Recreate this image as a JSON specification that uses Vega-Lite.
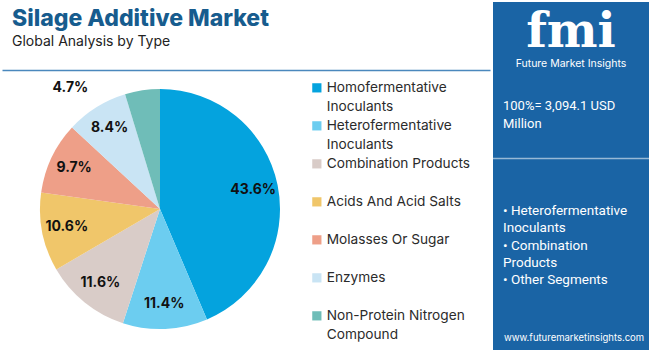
{
  "$schema": "https://vega.github.io/schema/vega-lite/v6.json",
  "padding": {"left": 2, "top": 2, "right": 2, "bottom": 0},
  "background": "white",
  "config": {"view": {"stroke": null}, "font": "Inter"},
  "spacing": 0,
  "hconcat": [
    {
      "spacing": 2,
      "vconcat": [
        {
          "title": {
            "text": "Silage Additive Market",
            "subtitle": "Global Analysis by Type",
            "anchor": "start",
            "frame": "group",
            "orient": "top",
            "dx": 10,
            "offset": -47,
            "font": "Inter",
            "fontSize": 23,
            "fontWeight": 800,
            "color": "#175c8e",
            "subtitleFont": "Inter",
            "subtitleFontSize": 14,
            "subtitleColor": "#222222",
            "subtitlePadding": 4
          },
          "width": 488,
          "height": 68,
          "data": {"values": []},
          "mark": "point",
          "encoding": {
            "x": {
              "datum": 0,
              "type": "quantitative",
              "scale": {"domain": [0, 1]},
              "axis": {"title": null, "labels": false, "ticks": false, "grid": false, "domain": true, "domainColor": "#4a88bd", "domainWidth": 1.5}
            }
          }
        },
        {
          "width": 316,
          "height": 274,
          "data": {
            "values": [
              {"type": "Homofermentative Inoculants", "share": 0.436, "rank": 1},
              {"type": "Heterofermentative Inoculants", "share": 0.114, "rank": 2},
              {"type": "Combination Products", "share": 0.116, "rank": 3},
              {"type": "Acids And Acid Salts", "share": 0.106, "rank": 4},
              {"type": "Molasses Or Sugar", "share": 0.097, "rank": 5},
              {"type": "Enzymes", "share": 0.084, "rank": 6},
              {"type": "Non-Protein Nitrogen Compound", "share": 0.047, "rank": 7}
            ]
          },
          "encoding": {
            "theta": {"field": "share", "type": "quantitative", "stack": true},
            "order": {"field": "rank", "type": "quantitative"},
            "color": {
              "field": "type",
              "type": "nominal",
              "sort": ["Homofermentative Inoculants", "Heterofermentative Inoculants", "Combination Products", "Acids And Acid Salts", "Molasses Or Sugar", "Enzymes", "Non-Protein Nitrogen Compound"],
              "scale": {
                "domain": ["Homofermentative Inoculants", "Heterofermentative Inoculants", "Combination Products", "Acids And Acid Salts", "Molasses Or Sugar", "Enzymes", "Non-Protein Nitrogen Compound"],
                "range": ["#04a3de", "#6ccdf0", "#d9ccc8", "#f0c66a", "#ee9f88", "#c9e4f4", "#6fbdb8"]
              },
              "legend": {
                "title": null,
                "orient": "right",
                "offset": -17,
                "padding": 9,
                "symbolType": "square",
                "symbolSize": 85,
                "symbolStrokeWidth": 0,
                "symbolOpacity": 1,
                "labelFont": "Inter",
                "labelFontSize": 13.7,
                "labelColor": "#2b2b2b",
                "labelLimit": 220,
                "labelOffset": 3,
                "labelBaseline": "top",
                "rowPadding": 4,
                "labelExpr": "datum.label == 'Homofermentative Inoculants' ? ['Homofermentative', 'Inoculants'] : datum.label == 'Heterofermentative Inoculants' ? ['Heterofermentative', 'Inoculants'] : datum.label == 'Non-Protein Nitrogen Compound' ? ['Non-Protein Nitrogen', 'Compound'] : [datum.label, '']",
                "encode": {"labels": {"update": {"lineHeight": {"value": 19}, "dy": {"value": -7}}}}
              }
            }
          },
          "layer": [
            {"mark": {"type": "arc", "radius": 120}},
            {
              "mark": {"type": "text", "radius": 95, "fontSize": 14, "fontWeight": "bold", "font": "Inter"},
              "encoding": {
                "fill": {"value": "#111111"},
                "text": {
                  "condition": {"test": "datum.type === 'Non-Protein Nitrogen Compound'", "value": ""},
                  "field": "share", "type": "quantitative", "format": ".1%"
                }
              }
            },
            {
              "mark": {"type": "text", "radius": 100, "align": "right", "dx": -57, "dy": -22, "fontSize": 14, "fontWeight": "bold", "font": "Inter"},
              "encoding": {
                "fill": {"value": "#111111"},
                "text": {
                  "condition": {"test": "datum.type !== 'Non-Protein Nitrogen Compound'", "value": ""},
                  "field": "share", "type": "quantitative", "format": ".1%"
                }
              }
            }
          ]
        },
        {
          "width": 490,
          "height": 3,
          "data": {"values": [{"band": "a", "w": 1}, {"band": "b", "w": 1}, {"band": "c", "w": 1}]},
          "mark": "rect",
          "encoding": {
            "x": {"field": "w", "type": "quantitative", "stack": true, "axis": null, "scale": {"domain": [0, 3], "nice": false}},
            "color": {"field": "band", "type": "nominal", "legend": null, "scale": {"domain": ["a", "b", "c"], "range": ["#8dbf52", "#e6643c", "#8e3f9f"]}}
          }
        }
      ],
      "resolve": {"scale": {"color": "independent"}}
    },
    {
      "width": 156,
      "height": 348,
      "view": {"fill": "#1a64a5", "stroke": null},
      "data": {
        "values": [
          {"kind": "logo", "line": 3, "text": "fmi"},
          {"kind": "tagline", "line": 3, "text": "Future Market Insights"},
          {"kind": "total", "line": 6, "text": "100%= 3,094.1 USD"},
          {"kind": "total", "line": 7, "text": "Million"},
          {"kind": "divider", "line": 9, "text": ""},
          {"kind": "segment", "line": 12, "text": "• Heterofermentative"},
          {"kind": "segment", "line": 13, "text": "Inoculants"},
          {"kind": "segment", "line": 14, "text": "• Combination"},
          {"kind": "segment", "line": 15, "text": "Products"},
          {"kind": "segment", "line": 16, "text": "• Other Segments"},
          {"kind": "site", "line": 19, "text": "www.futuremarketinsights.com"}
        ]
      },
      "encoding": {
        "y": {"field": "line", "type": "ordinal", "axis": null, "scale": {"type": "point", "padding": 0, "domain": [0,1,2,3,4,5,6,7,8,9,10,11,12,13,14,15,16,17,18,19,20]}}
      },
      "layer": [
        {
          "transform": [{"filter": "datum.kind == 'logo'"}],
          "mark": {"type": "text", "align": "center", "baseline": "alphabetic", "dy": -7, "fontSize": 48, "fontWeight": "bold", "font": "DejaVu Serif", "color": "#ffffff"},
          "encoding": {"text": {"field": "text"}}
        },
        {
          "transform": [{"filter": "datum.kind == 'tagline'"}],
          "mark": {"type": "text", "align": "center", "baseline": "top", "dy": 5, "fontSize": 10.5, "font": "Inter", "color": "#ffffff"},
          "encoding": {"text": {"field": "text"}}
        },
        {
          "transform": [{"filter": "datum.kind == 'total'"}],
          "mark": {"type": "text", "align": "left", "dx": -68, "fontSize": 13, "font": "Roboto", "color": "#ffffff"},
          "encoding": {"text": {"field": "text"}}
        },
        {
          "transform": [{"filter": "datum.kind == 'divider'"}],
          "mark": {"type": "rule", "color": "#ffffff", "opacity": 0.55, "strokeWidth": 1.5}
        },
        {
          "transform": [{"filter": "datum.kind == 'segment'"}],
          "mark": {"type": "text", "align": "left", "dx": -68, "fontSize": 13.5, "font": "Roboto", "color": "#ffffff"},
          "encoding": {"text": {"field": "text"}}
        },
        {
          "transform": [{"filter": "datum.kind == 'site'"}],
          "mark": {"type": "text", "align": "left", "dx": -67, "baseline": "top", "fontSize": 9.5, "font": "Inter", "color": "#ffffff"},
          "encoding": {"text": {"field": "text"}}
        }
      ]
    }
  ]
}
